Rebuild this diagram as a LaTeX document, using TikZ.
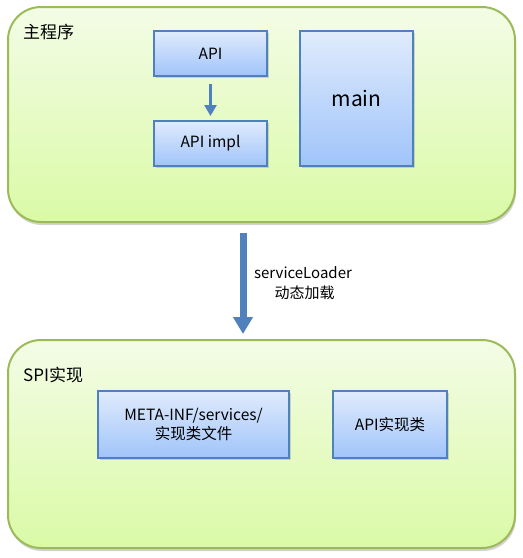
\documentclass[tikz,border=0pt]{standalone}
\usepackage{fontspec}
\setmainfont{Noto Sans CJK SC}
\usetikzlibrary{arrows.meta,shadows}
\definecolor{grpline}{RGB}{155,187,89}
\definecolor{grptop}{RGB}{243,252,230}
\definecolor{grpbot}{RGB}{218,250,166}
\definecolor{blkline}{RGB}{79,129,189}
\definecolor{blktop}{RGB}{224,235,252}
\definecolor{blkbot}{RGB}{160,196,250}
\begin{document}
\begin{tikzpicture}[x=1pt,y=-1pt]
 \tikzstyle{grp}=[draw=grpline,line width=2pt,rounded corners=33pt,top color=grptop,bottom color=grpbot,
   drop shadow={shadow xshift=1pt,shadow yshift=-3pt,opacity=0.35}]
 \tikzstyle{blk}=[draw=blkline,line width=2pt,top color=blktop,bottom color=blkbot,align=center,
   font=\fontsize{15.5}{19}\selectfont,drop shadow={shadow xshift=1.5pt,shadow yshift=-2pt,opacity=0.3}]
 \tikzstyle{title}=[anchor=west,inner sep=0pt,font=\fontsize{17}{20}\selectfont]
 \tikzstyle{estun}=[-{Triangle[width=12pt,length=11pt]},line width=2.5pt,draw=blkline]
 \tikzstyle{loadarr}=[-{Triangle[width=19pt,length=17pt]},line width=7pt,draw=blkline]
 \useasboundingbox (0,0) rectangle (523,558);
 % main program
 \node[grp,minimum width=507pt,minimum height=215pt] (prog) at (261.5,114.5) {};
 \node[title] (progname) at (23,32) {主程序};
 \node[blk,minimum width=113pt,minimum height=45pt] (api) at (210.5,53.5) {API};
 \node[blk,minimum width=113pt,minimum height=45pt] (impl) at (210.5,143.5) {API impl};
 \node[blk,minimum width=113pt,minimum height=135pt,font=\fontsize{21}{24}\selectfont] (main) at (356.5,98.5) {main};
 \draw[estun,shorten <=7pt,shorten >=4pt] (api)--(impl);
 % spi part
 \node[grp,minimum width=507pt,minimum height=208pt] (spi) at (261.5,444) {};
 \node[title] (spiname) at (23,375) {SPI实现};
 \node[blk,minimum width=191pt,minimum height=67pt] (meta) at (193.5,424.5) {META-INF/services/\\实现类文件};
 \node[blk,minimum width=114pt,minimum height=67pt] (apicls) at (390,424.5) {API实现类};
 % service loader
 \coordinate (ldtop) at (243,233);
 \coordinate (ldbot) at (243,334);
 \draw[loadarr] (ldtop)--(ldbot);
 \node[align=center,font=\fontsize{15}{20}\selectfont] (ldname) at (303,283) {serviceLoader\\\ 动态加载};
\end{tikzpicture}
\end{document}
